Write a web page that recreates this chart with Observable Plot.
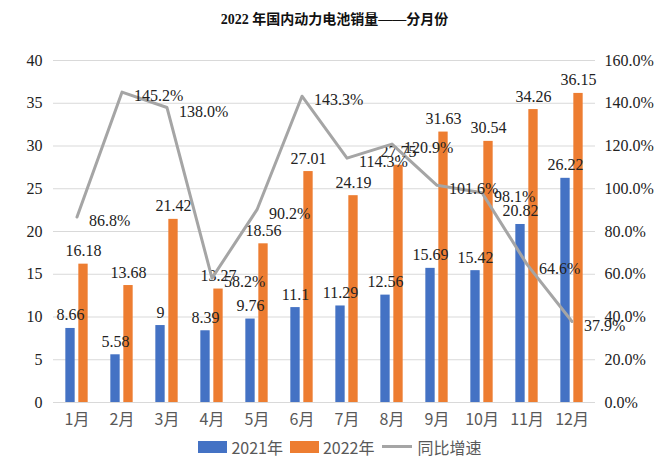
<!DOCTYPE html>
<html>
<head>
<meta charset="utf-8">
<script src="https://cdn.jsdelivr.net/npm/d3@7"></script>
<script src="https://cdn.jsdelivr.net/npm/@observablehq/plot@0.6"></script>
<style>
  html, body { margin: 0; padding: 0; background: #fff; }
  #wrap { width: 669px; height: 459px; position: relative; overflow: hidden; }
  #title { height: 40px; line-height: 40px; text-align: center; font-family: "Liberation Serif", "Noto Sans CJK SC", serif; font-weight: bold; font-size: 14px; color: #111; }
  #legend { height: 25px; display: flex; justify-content: center; align-items: center; gap: 7px; padding-left: 11px; box-sizing: border-box; font-family: "Noto Sans CJK SC", "Noto Sans", sans-serif; font-size: 16px; color: #595959; }
  .item { display: flex; align-items: center; gap: 4px; }
  .sw { width: 29px; height: 12px; }
  .ln { width: 30px; height: 3px; background: #a5a5a5; margin-right: 2px; }
  #chart svg text { font-family: "Liberation Serif", "DejaVu Serif", serif !important; }
  #chart svg g.xlab text { font-family: "Noto Sans CJK SC", "Noto Sans", sans-serif !important; }
</style>
</head>
<body>
<div id="wrap">
  <div id="title">2022 年国内动力电池销量——分月份</div>
  <div id="chart"></div>
  <div id="legend">
    <div class="item"><div class="sw" style="background:#4472c4"></div><span>2021年</span></div>
    <div class="item"><div class="sw" style="background:#ed7d31"></div><span>2022年</span></div>
    <div class="item"><div class="ln"></div><span>同比增速</span></div>
  </div>
</div>
<script>
const months = ["1月","2月","3月","4月","5月","6月","7月","8月","9月","10月","11月","12月"];
const sales2021 = [8.66, 5.58, 9, 8.39, 9.76, 11.1, 11.29, 12.56, 15.69, 15.42, 20.82, 26.22];
const sales2022 = [16.18, 13.68, 21.42, 13.27, 18.56, 27.01, 24.19, 27.75, 31.63, 30.54, 34.26, 36.15];
const growth = [86.8, 145.2, 138.0, 58.2, 90.2, 143.3, 114.3, 120.9, 101.6, 98.1, 64.6, 37.9];
const leftTicks = [0, 5, 10, 15, 20, 25, 30, 35, 40];
const rightTicks = [0, 20, 40, 60, 80, 100, 120, 140, 160];

const rows = months.map((m, i) => ({month: m, v21: sales2021[i], v22: sales2022[i], g: growth[i]}));
const ratio = 160 / 40; // right axis (percent) per left-axis unit

const barW = 9.5;
const bandW = (669 - 53 - 74) / 12;
const inset = (bandW - barW) / 2;

const chart = Plot.plot({
  width: 669,
  height: 394,
  marginTop: 20,
  marginBottom: 32,
  marginLeft: 53,
  marginRight: 74,
  x: {domain: months, padding: 0, axis: null},
  y: {domain: [0, 40], axis: null},
  marks: [
    Plot.ruleY(leftTicks, {stroke: "#d9d9d9", strokeWidth: 1}),
    Plot.axisY({anchor: "left", ticks: leftTicks, tickSize: 0, tickPadding: 11, fontSize: 16, color: "#222", label: null}),
    Plot.axisY({anchor: "right", ticks: rightTicks.map(t => t / ratio), tickFormat: d => (d * ratio).toFixed(1) + "%", tickSize: 0, tickPadding: 9, fontSize: 16, color: "#222", label: null}),
    Plot.axisX({tickSize: 0, tickPadding: 11, fontSize: 16, color: "#595959", label: null, className: "xlab"}),
    Plot.barY(rows, {x: "month", y: "v21", fill: "#4472c4", insetLeft: inset, insetRight: inset, dx: -6.5}),
    Plot.barY(rows, {x: "month", y: "v22", fill: "#ed7d31", insetLeft: inset, insetRight: inset, dx: 6.5}),
    Plot.text(rows, {x: "month", y: "v21", text: d => String(d.v21), dx: -6.5, dy: -8, lineAnchor: "bottom", fontSize: 16, fill: "#222"}),
    Plot.text(rows, {x: "month", y: "v22", text: d => String(d.v22), dx: 6.5, dy: -8, lineAnchor: "bottom", fontSize: 16, fill: "#222"}),
    Plot.line(rows, {x: "month", y: d => d.g / ratio, stroke: "#a5a5a5", strokeWidth: 3, strokeLinejoin: "round"}),
    Plot.text(rows, {x: "month", y: d => d.g / ratio, text: d => d.g.toFixed(1) + "%", textAnchor: "start", dx: 12, dy: 4, fontSize: 16, fill: "#222"})
  ]
});
document.getElementById("chart").appendChild(chart);
</script>
</body>
</html>
